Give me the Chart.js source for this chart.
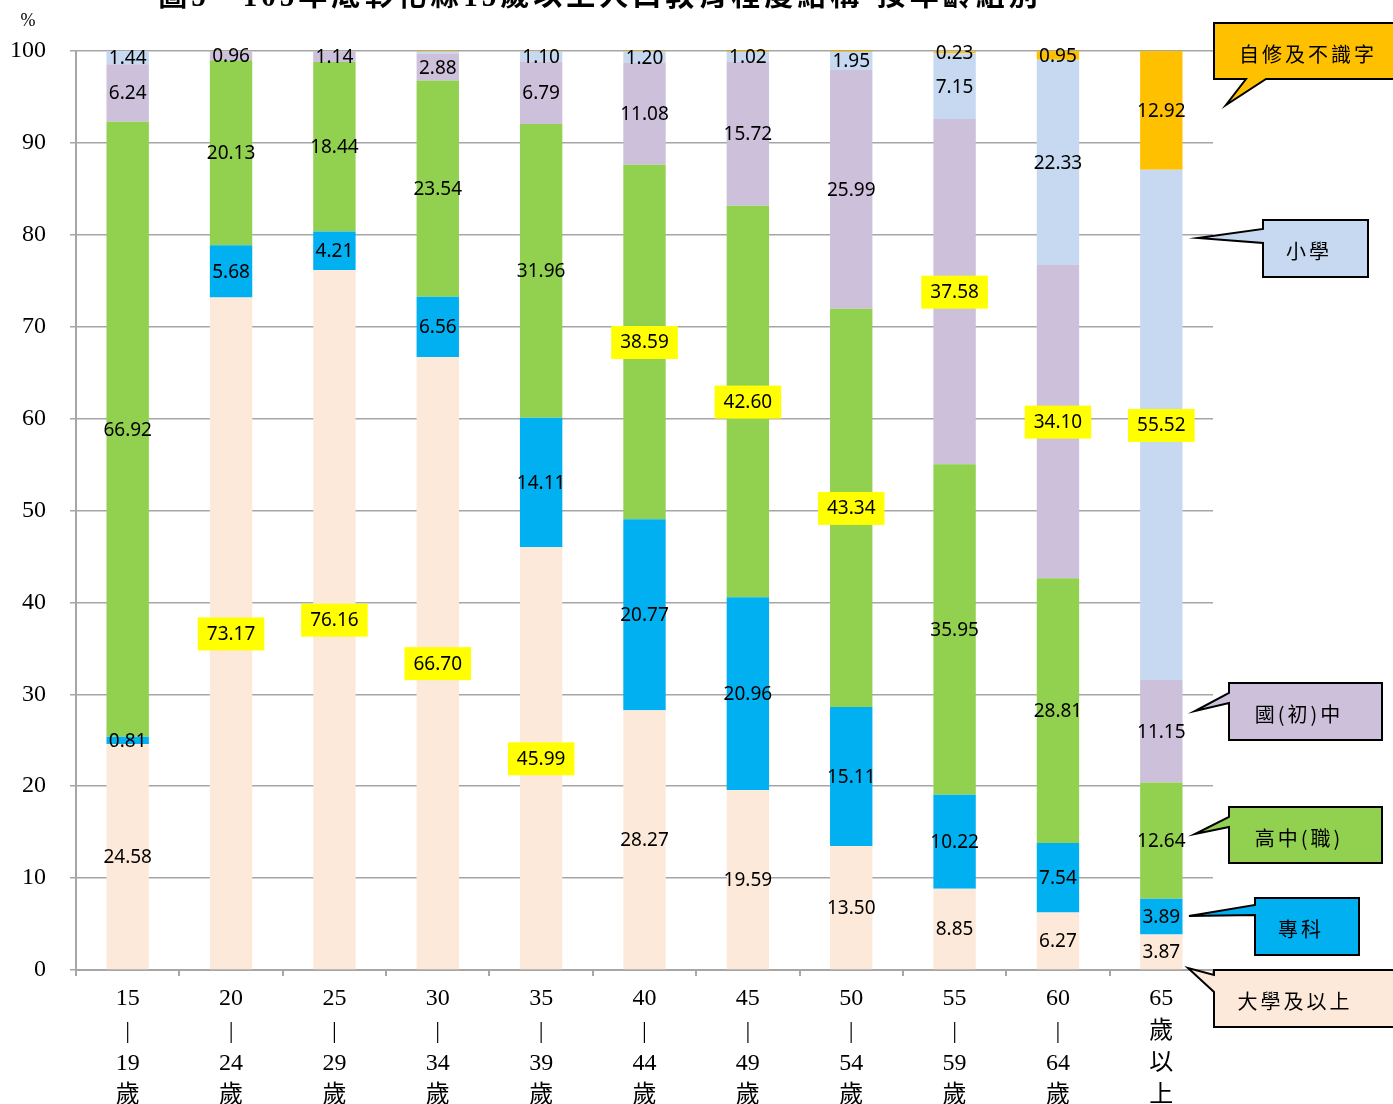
<!DOCTYPE html>
<html>
<head>
<meta charset="utf-8">
<script src="https://cdn.jsdelivr.net/npm/chart.js@4.4.1/dist/chart.umd.min.js"></script>
<style>
  body { margin: 0; background: #fff; }
  #wrap { width: 1393px; height: 1104px; position: relative; }
</style>
</head>
<body>
<div id="wrap"><canvas id="eduChart" width="1393" height="1104"></canvas></div>
<script>
// --- データ ---
const ageLabels = [
  ["15","|","19","歲"], ["20","|","24","歲"], ["25","|","29","歲"], ["30","|","34","歲"],
  ["35","|","39","歲"], ["40","|","44","歲"], ["45","|","49","歲"], ["50","|","54","歲"],
  ["55","|","59","歲"], ["60","|","64","歲"], ["65","歲","以","上"]
];
const seriesNames = ["大學及以上", "專科", "高中(職)", "國(初)中", "小學", "自修及不識字"];
const univ      = [24.58, 73.17, 76.16, 66.70, 45.99, 28.27, 19.59, 13.50, 8.85, 6.27, 3.87];
const college   = [0.81, 5.68, 4.21, 6.56, 14.11, 20.77, 20.96, 15.11, 10.22, 7.54, 3.89];
const senior    = [66.92, 20.13, 18.44, 23.54, 31.96, 38.59, 42.60, 43.34, 35.95, 28.81, 12.64];
const junior    = [6.24, 0.96, 1.14, 2.88, 6.79, 11.08, 15.72, 25.99, 37.58, 34.10, 11.15];
const primary   = [1.44, 0.04, 0.03, 0.25, 1.10, 1.20, 1.02, 1.95, 7.15, 22.33, 55.52];
const selfStudy = [0.01, 0.02, 0.02, 0.07, 0.05, 0.09, 0.11, 0.11, 0.23, 0.95, 12.92];
const yTicks = [0, 10, 20, 30, 40, 50, 60, 70, 80, 90, 100];

// ラベルを出さない値 (系列番号: インデックス)
const noLabel = { 4: [1, 2, 3], 5: [0, 1, 2, 3, 4, 5, 6, 7] };
// 黄色で強調する系列 (各年齢層)
const highlightSeries = [-1, 0, 0, 0, 0, 2, 2, 2, 3, 3, 4];

const colors = ["#FDE9D9", "#00B0F0", "#92D050", "#CCC0DA", "#C6D9F1", "#FFC000"];
const allData = [univ, college, senior, junior, primary, selfStudy];

const serif = "'Liberation Serif','Noto Sans CJK TC'";
const cjk = "'Noto Sans CJK TC'";

// --- 数値ラベル ---
const valueLabels = {
  id: "valueLabels",
  afterDatasetsDraw(chart) {
    const ctx = chart.ctx;
    ctx.save();
    ctx.font = "19px 'Noto Sans'";
    ctx.textAlign = "center";
    ctx.textBaseline = "middle";
    chart.data.datasets.forEach((ds, i) => {
      const meta = chart.getDatasetMeta(i);
      meta.data.forEach((bar, j) => {
        if (noLabel[i] && noLabel[i].includes(j)) return;
        const txt = ds.data[j].toFixed(2);
        const x = bar.x;
        const y = (bar.y + bar.base) / 2;
        if (highlightSeries[j] === i) {
          const w = ctx.measureText(txt).width + 18;
          ctx.fillStyle = "#FFFF00";
          ctx.fillRect(x - w / 2, y - 16, w, 33);
        }
        ctx.fillStyle = "#000";
        ctx.fillText(txt, x, y + 1);
      });
    });
    ctx.restore();
  }
};

// --- 吹き出し・タイトル ---
const callouts = [
  { text: "自修及不識字", fill: colors[5], y: 23, h: 56,
    pts: [[1214,23],[1414,23],[1414,79],[1266,79],[1226,105],[1246,79],[1214,79]], tx: 1308 },
  { text: "小學", fill: colors[4], y: 220, h: 57,
    pts: [[1263,220],[1368,220],[1368,277],[1263,277],[1263,243],[1198,238],[1263,229]], tx: 1309 },
  { text: "國(初)中", fill: colors[3], y: 683, h: 57,
    pts: [[1229,683],[1382,683],[1382,740],[1229,740],[1229,703],[1195,711],[1229,693]], tx: 1299 },
  { text: "高中(職)", fill: colors[2], y: 807, h: 56,
    pts: [[1229,807],[1382,807],[1382,863],[1229,863],[1229,827],[1195,834],[1229,817]], tx: 1299 },
  { text: "專科", fill: colors[1], y: 898, h: 57,
    pts: [[1255,898],[1359,898],[1359,955],[1255,955],[1255,915],[1189,916],[1255,905]], tx: 1301 },
  { text: "大學及以上", fill: colors[0], y: 970, h: 57,
    pts: [[1240,970],[1414,970],[1414,1027],[1214,1027],[1214,992],[1188,968],[1214,975],[1214,970]], tx: 1295 }
];

const decorations = {
  id: "decorations",
  afterDraw(chart) {
    const ctx = chart.ctx;
    ctx.save();
    // タイトル (上端で切れている)
    ctx.font = "bold 29px " + serif;
    ctx.letterSpacing = "4px";
    ctx.fillStyle = "#000";
    ctx.textAlign = "center";
    ctx.textBaseline = "alphabetic";
    ctx.fillText("圖5　105年底彰化縣15歲以上人口教育程度結構-按年齡組別", 600, 6);
    ctx.letterSpacing = "0px";
    // 単位
    ctx.font = "18px " + serif;
    ctx.fillText("%", 28, 26);
    // 吹き出し
    callouts.forEach(c => {
      ctx.beginPath();
      c.pts.forEach((p, k) => k ? ctx.lineTo(p[0], p[1]) : ctx.moveTo(p[0], p[1]));
      ctx.closePath();
      ctx.fillStyle = c.fill;
      ctx.fill();
      ctx.lineWidth = 2;
      ctx.strokeStyle = "#000";
      ctx.stroke();
      ctx.fillStyle = "#000";
      ctx.font = "20px " + cjk;
      ctx.letterSpacing = "3px";
      ctx.textAlign = "center";
      ctx.textBaseline = "middle";
      ctx.fillText(c.text, c.tx, c.y + c.h / 2 + 3);
      ctx.letterSpacing = "0px";
    });
    ctx.restore();
  }
};

// --- グラフ描画 ---
const ctx = document.getElementById("eduChart").getContext("2d");
new Chart(ctx, {
  type: "bar",
  data: {
    labels: ageLabels,
    datasets: allData.map((d, i) => ({
      label: seriesNames[i],
      data: d,
      backgroundColor: colors[i],
      borderWidth: 0,
      barPercentage: 0.41,
      categoryPercentage: 1
    }))
  },
  options: {
    responsive: false,
    animation: false,
    layout: { padding: { top: 51, right: 180, left: 0, bottom: 0 } },
    plugins: { legend: { display: false }, tooltip: { enabled: false } },
    scales: {
      x: {
        stacked: true,
        grid: { display: true, drawOnChartArea: false, drawTicks: true, tickLength: 6, offset: true, color: "#a6a6a6", lineWidth: 2 },
        border: { display: true, color: "#a6a6a6", width: 2 },
        ticks: { color: "#000", font: { family: serif, size: 24, lineHeight: 1.34 }, padding: 7, maxRotation: 0, autoSkip: false },
        afterFit(scale) { scale.height = 134; }
      },
      y: {
        stacked: true,
        min: 0, max: 100,
        afterBuildTicks(scale) { scale.ticks = yTicks.map(v => ({ value: v })); },
        grid: { color: "#a6a6a6", lineWidth: 1.5, tickLength: 6 },
        border: { display: true, color: "#a6a6a6", width: 2 },
        ticks: { color: "#000", font: { family: serif, size: 24 }, padding: 24 },
        afterFit(scale) { scale.width = 76; }
      }
    }
  },
  plugins: [valueLabels, decorations]
});
</script>
</body>
</html>
